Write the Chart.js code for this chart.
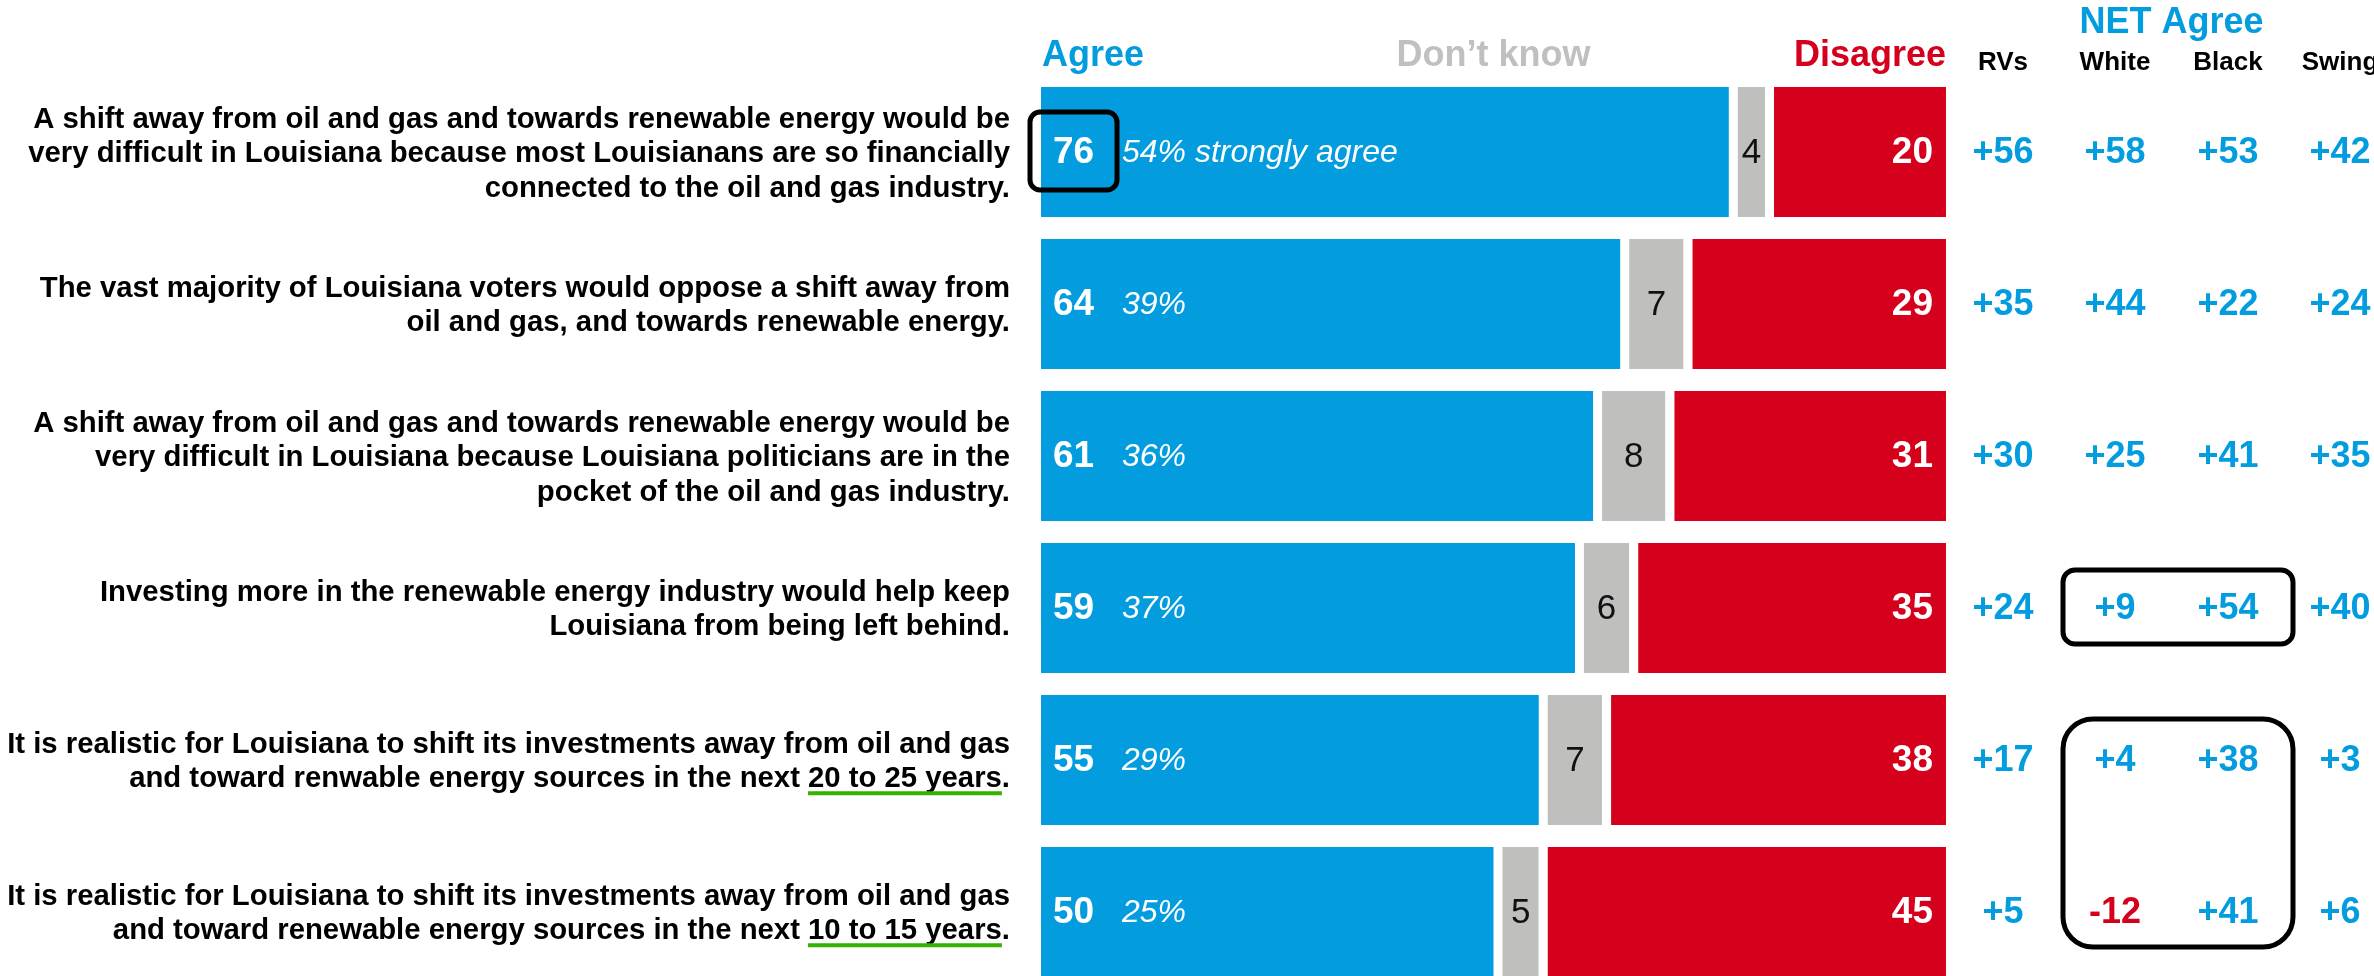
<!DOCTYPE html>
<html>
<head>
<meta charset="utf-8">
<title>Louisiana voters on a shift to renewable energy</title>
<script src="https://cdn.jsdelivr.net/npm/chart.js@4.4.1/dist/chart.umd.min.js"></script>
<style>
  html, body { margin: 0; padding: 0; background: #fff; overflow: hidden; }
  #wrap { width: 2374px; height: 992px; }
</style>
</head>
<body>
<div id="wrap"><canvas id="chart" width="2374" height="992"></canvas></div>
<script>
// statements, one array of lines each (wrapped as in the source)
const statements = [
  ['A shift away from oil and gas and towards renewable energy would be',
   'very difficult in Louisiana because most Louisianans are so financially',
   'connected to the oil and gas industry.'],
  ['The vast majority of Louisiana voters would oppose a shift away from',
   'oil and gas, and towards renewable energy.'],
  ['A shift away from oil and gas and towards renewable energy would be',
   'very difficult in Louisiana because Louisiana politicians are in the',
   'pocket of the oil and gas industry.'],
  ['Investing more in the renewable energy industry would help keep',
   'Louisiana from being left behind.'],
  ['It is realistic for Louisiana to shift its investments away from oil and gas',
   'and toward renwable energy sources in the next 20 to 25 years.'],
  ['It is realistic for Louisiana to shift its investments away from oil and gas',
   'and toward renewable energy sources in the next 10 to 15 years.']
];
const underlined = ['', '', '', '', '20 to 25 years', '10 to 15 years'];

const agree = [76, 64, 61, 59, 55, 50];
const stronglyAgree = [54, 39, 36, 37, 29, 25];
const dontKnow = [4, 7, 8, 6, 7, 5];
const disagree = [20, 29, 31, 35, 38, 45];

const netGroups = ['RVs', 'White', 'Black', 'Swing'];
const netRVs = [56, 35, 30, 24, 17, 5];
const netWhite = [58, 44, 25, 9, 4, -12];
const netBlack = [53, 22, 41, 54, 38, 41];
const netSwing = [42, 24, 35, 40, 3, 6];

const BLUE = '#039ddf';
const RED = '#d5001c';
const GREY = '#bfbfbd';
const GREEN = '#33b300';
const FONT = '"Liberation Sans", Arial, Helvetica, sans-serif';

const netColumns = [netRVs, netWhite, netBlack, netSwing];
const netColX = [2003, 2115, 2228, 2340];

const fmtNet = v => (v > 0 ? '+' + v : String(v));

const annotate = {
  id: 'annotate',
  afterDatasetsDraw(chart) {
    const ctx = chart.ctx;
    const xs = chart.scales.x;
    const agreeBars = chart.getDatasetMeta(0).data;
    const dkBars = chart.getDatasetMeta(1).data;
    const disBars = chart.getDatasetMeta(2).data;
    ctx.save();

    // headers
    ctx.textBaseline = 'alphabetic';
    ctx.font = `bold 36px ${FONT}`;
    ctx.fillStyle = BLUE;
    ctx.textAlign = 'left';
    ctx.fillText('Agree', xs.getPixelForValue(0) + 1, 66);
    ctx.fillStyle = '#c0c0c0';
    ctx.textAlign = 'center';
    ctx.fillText('Don\u2019t know', xs.getPixelForValue(50), 66);
    ctx.fillStyle = RED;
    ctx.textAlign = 'right';
    ctx.fillText('Disagree', xs.getPixelForValue(100), 66);

    ctx.fillStyle = BLUE;
    ctx.textAlign = 'center';
    ctx.fillText('NET Agree', (netColX[1] + netColX[2]) / 2, 33);
    ctx.font = `bold 26px ${FONT}`;
    ctx.fillStyle = '#000';
    netGroups.forEach((g, k) => ctx.fillText(g, netColX[k], 70));

    agreeBars.forEach((bar, i) => {
      const y = bar.y;

      // statement text, right aligned
      ctx.font = `bold 29.3px ${FONT}`;
      ctx.fillStyle = '#000';
      ctx.textAlign = 'right';
      ctx.textBaseline = 'alphabetic';
      const lines = statements[i];
      const lh = 34.5;
      const firstBase = y + 10 - (lines.length - 1) * lh / 2;
      lines.forEach((line, l) => {
        const by = firstBase + l * lh;
        ctx.fillText(line, 1010, by);
        const u = underlined[i];
        if (u && l === lines.length - 1 && line.includes(u)) {
          const tail = line.slice(line.indexOf(u) + u.length);
          const endX = 1010 - ctx.measureText(tail).width;
          const startX = endX - ctx.measureText(u).width;
          ctx.fillStyle = GREEN;
          ctx.fillRect(startX, by + 4, endX - startX, 4);
          ctx.fillStyle = '#000';
        }
      });

      // agree value and strongly agree share
      ctx.textBaseline = 'middle';
      ctx.textAlign = 'left';
      ctx.fillStyle = '#fff';
      ctx.font = `bold 37px ${FONT}`;
      ctx.fillText(String(agree[i]), bar.base + 12, y + 1);
      ctx.font = `italic 32px ${FONT}`;
      ctx.fillText(i === 0 ? stronglyAgree[i] + '% strongly agree' : stronglyAgree[i] + '%', bar.base + 81, y + 1);

      // don't know
      const dk = dkBars[i];
      ctx.textAlign = 'center';
      ctx.fillStyle = '#111';
      ctx.font = `35px ${FONT}`;
      ctx.fillText(String(dontKnow[i]), (dk.base + dk.x) / 2 + 4.5, y + 1);

      // disagree
      const ds = disBars[i];
      ctx.textAlign = 'right';
      ctx.fillStyle = '#fff';
      ctx.font = `bold 37px ${FONT}`;
      ctx.fillText(String(disagree[i]), ds.x - 13, y + 1);

      // net agree columns
      ctx.textAlign = 'center';
      ctx.font = `bold 36px ${FONT}`;
      netColumns.forEach((col, k) => {
        ctx.fillStyle = col[i] < 0 ? RED : BLUE;
        ctx.fillText(fmtNet(col[i]), netColX[k], y + 1);
      });
    });

    // highlight boxes
    ctx.strokeStyle = '#000';
    ctx.lineWidth = 5;
    const b0 = agreeBars[0];
    ctx.beginPath();
    ctx.roundRect(b0.base - 11, b0.y - 40, 87, 78, 10);
    ctx.stroke();

    const left = netColX[1] - 52, right = netColX[2] + 65;
    const r3 = agreeBars[3].y;
    ctx.beginPath();
    ctx.roundRect(left, r3 - 38, right - left, 74, 12);
    ctx.stroke();

    const r4 = agreeBars[4].y, r5 = agreeBars[5].y;
    ctx.beginPath();
    ctx.roundRect(left, r4 - 41, right - left, r5 + 35 - (r4 - 41), 30);
    ctx.stroke();

    ctx.restore();
  }
};

new Chart(document.getElementById('chart'), {
  type: 'bar',
  data: {
    labels: statements.map(s => s.join(' ')),
    datasets: [
      { label: 'Agree', data: agree, backgroundColor: BLUE, borderWidth: 0 },
      { label: 'Don\u2019t know', data: dontKnow, backgroundColor: GREY,
        borderColor: '#fff', borderWidth: { left: 9, right: 0, top: 0, bottom: 0 }, borderSkipped: false },
      { label: 'Disagree', data: disagree, backgroundColor: RED,
        borderColor: '#fff', borderWidth: { left: 9, right: 0, top: 0, bottom: 0 }, borderSkipped: false }
    ]
  },
  options: {
    indexAxis: 'y',
    responsive: false,
    animation: false,
    layout: { padding: { left: 1041, right: 428, top: 76, bottom: 4 } },
    datasets: { bar: { categoryPercentage: 1, barPercentage: 0.855 } },
    scales: {
      x: { stacked: true, min: 0, max: 100, display: false },
      y: { stacked: true, display: false }
    },
    plugins: { legend: { display: false }, tooltip: { enabled: false } }
  },
  plugins: [annotate]
});
</script>
</body>
</html>
